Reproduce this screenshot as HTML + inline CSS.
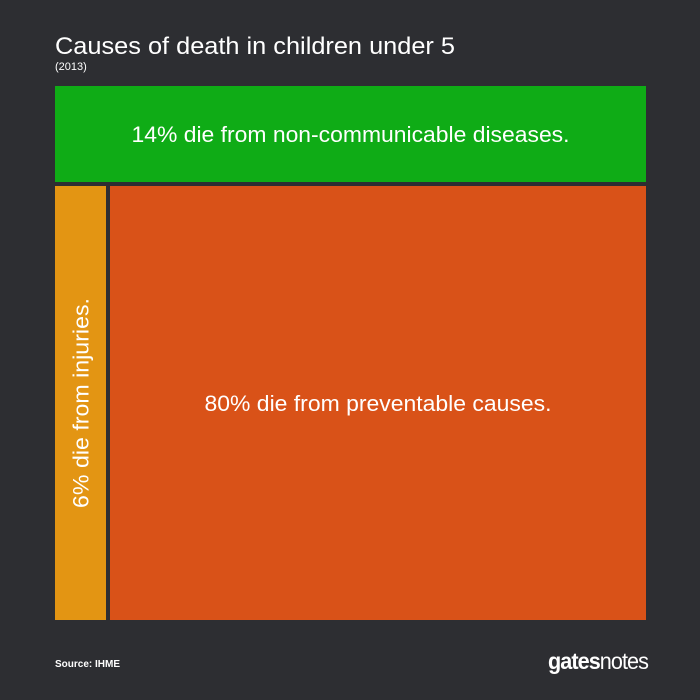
<!DOCTYPE html>
<html><head><meta charset="utf-8"><style>
html,body{margin:0;padding:0;background:#2d2e32;}
svg{display:block;font-family:"Liberation Sans",sans-serif;}
</style></head><body>
<svg id="chart" width="700" height="700" viewBox="0 0 700 700">
<rect x="0" y="0" width="700" height="700" fill="#2d2e32"/>
<text x="55" y="54" fill="#ffffff" font-size="24" textLength="400" lengthAdjust="spacingAndGlyphs">Causes of death in children under 5</text>
<text x="55" y="70" fill="#ffffff" font-size="11">(2013)</text>
<g id="marks"></g>
<text x="55" y="667" fill="#ffffff" font-size="10" font-weight="bold">Source: IHME</text>
<text x="548" y="669" fill="#ffffff" font-size="23" textLength="100" lengthAdjust="spacingAndGlyphs" letter-spacing="-1"><tspan font-weight="bold">gates</tspan><tspan>notes</tspan></text>
</svg>
<script>
const categories = ["non-communicable", "injuries", "preventable"];
const shares = [14, 6, 80];
const labels = ["14% die from non-communicable diseases.", "6% die from injuries.", "80% die from preventable causes."];
const colors = ["#0fac16", "#e39513", "#d95218"];

const X0 = 55, X1 = 646, Y0 = 86, Y1 = 620, GAP = 4;
// scales calibrated to reference geometry
const hScale = v => v / 14 * 96;   // height of top band
const wScale = v => v / 6 * 51;    // width of left strip
const ns = "http://www.w3.org/2000/svg";
const g = document.getElementById("marks");

function mk(tag, attrs) { const e = document.createElementNS(ns, tag); for (const k in attrs) e.setAttribute(k, attrs[k]); return e; }

const topH = hScale(shares[0]);
const leftW = wScale(shares[1]);

const r0 = mk("rect", {x: X0, y: Y0, width: X1 - X0, height: topH, fill: colors[0]});


g.appendChild(r0);
const t0 = mk("text", {x: (X0 + X1) / 2, y: Y0 + topH / 2 + 8, fill: "#fff", "font-size": 22, "text-anchor": "middle", textLength: 438, lengthAdjust: "spacingAndGlyphs"});
t0.textContent = labels[0];


g.appendChild(t0);

const by = Y0 + topH + GAP;
const r1 = mk("rect", {x: X0, y: by, width: leftW, height: Y1 - by, fill: colors[1]});


g.appendChild(r1);
const cx1 = X0 + leftW / 2, cy1 = (by + Y1) / 2;
const t1 = mk("text", {x: cx1, y: cy1, fill: "#fff", "font-size": 22, "text-anchor": "middle", textLength: 210, lengthAdjust: "spacingAndGlyphs", transform: `rotate(-90 ${cx1} ${cy1}) translate(0 8)`});
t1.textContent = labels[1];


g.appendChild(t1);

const rx = X0 + leftW + GAP;
const r2 = mk("rect", {x: rx, y: by, width: X1 - rx, height: Y1 - by, fill: colors[2]});


g.appendChild(r2);
const t2 = mk("text", {x: (rx + X1) / 2, y: (by + Y1) / 2 + 8, fill: "#fff", "font-size": 22, "text-anchor": "middle", textLength: 347, lengthAdjust: "spacingAndGlyphs"});
t2.textContent = labels[2];


g.appendChild(t2);
</script>
</body></html>
